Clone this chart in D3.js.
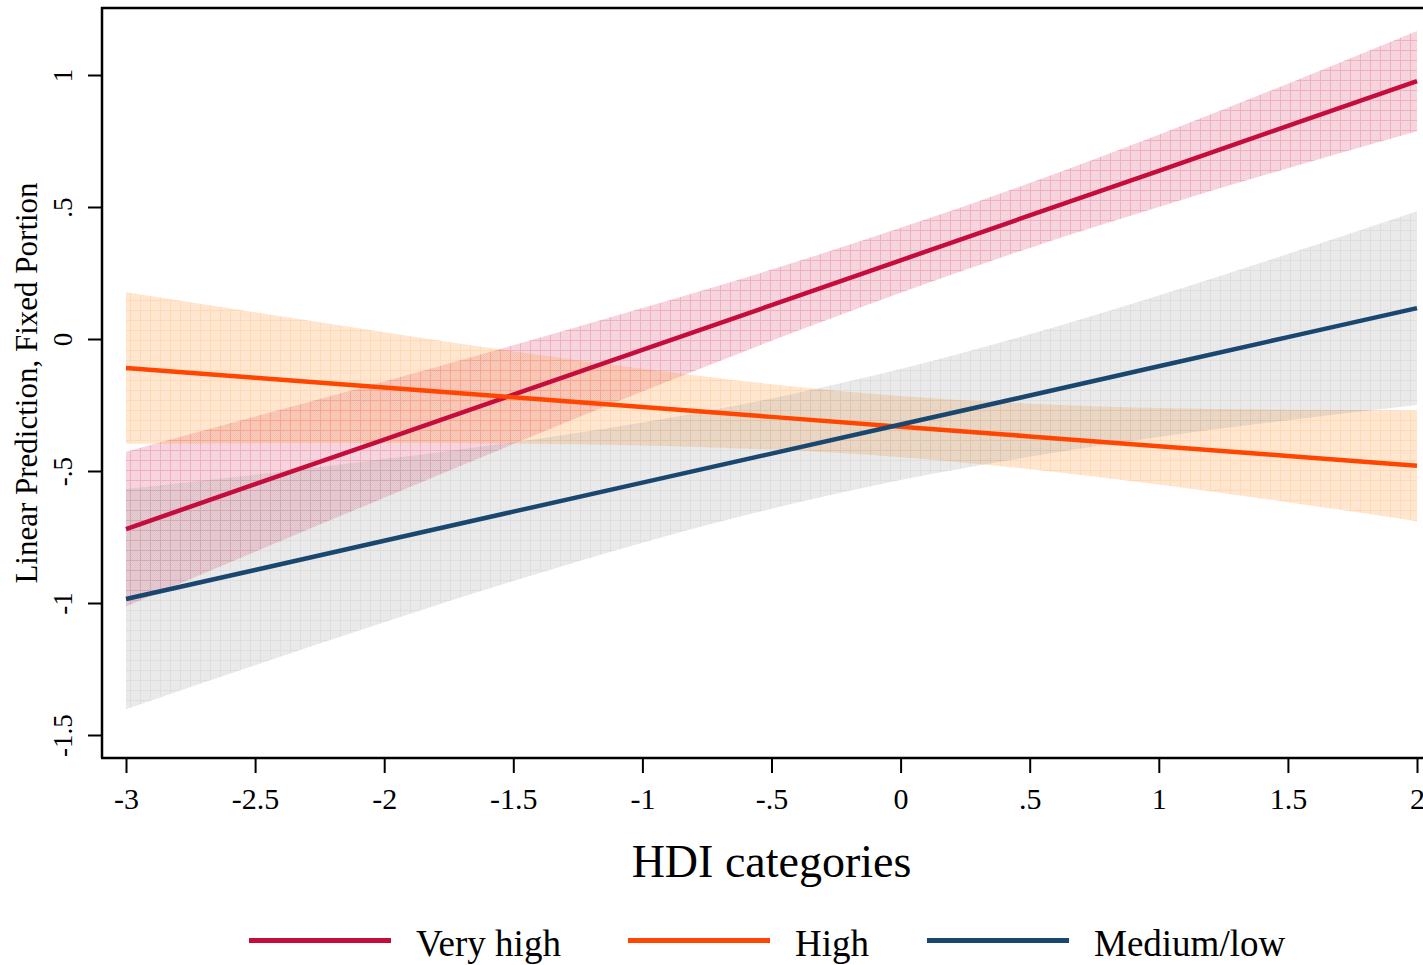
<!DOCTYPE html>
<html>
<head>
<meta charset="utf-8">
<script src="https://cdn.jsdelivr.net/npm/d3@7"></script>
<style>
  body { margin: 0; background: #fff; }
  svg { display: block; }
  text { font-family: "Liberation Serif", "Times New Roman", serif; fill: #000; }
</style>
</head>
<body>
<div id="chart"></div>
<script>
// HDI categories (x) at which the predictions were read
var hdiValues = [-3, -2.5, -2, -1.5, -1, -0.5, 0, 0.5, 1, 1.5, 2];

// Very high
var veryHighFit = [-0.720, -0.550, -0.381, -0.211, -0.041, 0.128, 0.298, 0.468, 0.637, 0.807, 0.977];
var veryHighUpper = [-0.427, -0.294, -0.161, -0.024, 0.117, 0.263, 0.421, 0.591, 0.774, 0.967, 1.167];
var veryHighLower = [-1.013, -0.806, -0.601, -0.398, -0.199, -0.007, 0.175, 0.345, 0.500, 0.647, 0.787];

// High
var highFit = [-0.110, -0.147, -0.184, -0.221, -0.258, -0.295, -0.332, -0.369, -0.406, -0.443, -0.480];
var highUpper = [0.177, 0.101, 0.026, -0.046, -0.113, -0.171, -0.216, -0.245, -0.261, -0.268, -0.270];
var highLower = [-0.397, -0.395, -0.394, -0.396, -0.403, -0.419, -0.448, -0.493, -0.551, -0.618, -0.690];

// Medium/low
var medLowFit = [-0.985, -0.875, -0.764, -0.654, -0.544, -0.434, -0.324, -0.214, -0.103, 0.007, 0.117];
var medLowUpper = [-0.568, -0.514, -0.455, -0.391, -0.316, -0.225, -0.114, 0.018, 0.165, 0.322, 0.484];
var medLowLower = [-1.402, -1.236, -1.073, -0.917, -0.772, -0.643, -0.534, -0.446, -0.371, -0.308, -0.250];

var seriesNames = ["Very high", "High", "Medium/low"];

var xTicks = [-3, -2.5, -2, -1.5, -1, -0.5, 0, 0.5, 1, 1.5, 2];
var xTickLabels = ["-3", "-2.5", "-2", "-1.5", "-1", "-.5", "0", ".5", "1", "1.5", "2"];
var yTicks = [-1.5, -1, -0.5, 0, 0.5, 1];
var yTickLabels = ["-1.5", "-1", "-.5", "0", ".5", "1"];

var svgWidth = 1423;
var svgHeight = 965;

// plot region box (right edge runs past the picture)
var box = { left: 102, top: 8, right: 1441, bottom: 758 };

var svg = d3.select("#chart")
  .append("svg")
  .attr("width", svgWidth)
  .attr("height", svgHeight);

var xScale = d3.scaleLinear().domain([-3, 2]).range([126, 1417]);
var yScale = d3.scaleLinear().domain([-1.5, 1]).range([735, 75]);

var styles = [
  { line: "#c50d3d", band: "#d0204c", base: 0.17, grid: 0.2 },
  { line: "#ff4500", band: "#ff9a3c", base: 0.22, grid: 0.18 },
  { line: "#1a476f", band: "#999999", base: 0.19, grid: 0.15 }
];

var series = [
  { fit: veryHighFit, lo: veryHighLower, hi: veryHighUpper },
  { fit: highFit, lo: highLower, hi: highUpper },
  { fit: medLowFit, lo: medLowLower, hi: medLowUpper }
];

// hatch-like fill patterns for the confidence bands
var defs = svg.append("defs");
styles.forEach(function(s, k) {
  var p = defs.append("pattern")
    .attr("id", "band" + k)
    .attr("patternUnits", "userSpaceOnUse")
    .attr("width", 10)
    .attr("height", 10);
  p.append("rect").attr("width", 10).attr("height", 10)
    .attr("fill", s.band).attr("fill-opacity", s.base);
  for (var i = 0; i < 10; i++) {
    for (var j = 0; j < 10; j++) {
      if ((i + j) % 2 === 0) {
        p.append("rect").attr("x", i).attr("y", j).attr("width", 1).attr("height", 1)
          .attr("fill", s.band).attr("fill-opacity", 0.06);
      }
    }
  }
  p.append("rect").attr("x", 0).attr("y", 0).attr("width", 10).attr("height", 1)
    .attr("fill", s.band).attr("fill-opacity", s.grid);
  p.append("rect").attr("x", 0).attr("y", 1).attr("width", 1).attr("height", 9)
    .attr("fill", s.band).attr("fill-opacity", s.grid);
});

var area = d3.area()
  .x(function(d) { return xScale(d.x); })
  .y0(function(d) { return yScale(d.lo); })
  .y1(function(d) { return yScale(d.hi); })
  .curve(d3.curveMonotoneX);

var line = d3.line()
  .x(function(d) { return xScale(d.x); })
  .y(function(d) { return yScale(d.y); });

var bandsGroup = svg.append("g");
series.forEach(function(s, k) {
  var pts = hdiValues.map(function(x, i) { return { x: x, lo: s.lo[i], hi: s.hi[i] }; });
  bandsGroup.append("path")
    .datum(pts)
    .attr("d", area)
    .attr("fill", "url(#band" + k + ")");
});

var linesGroup = svg.append("g");
series.forEach(function(s, k) {
  var pts = hdiValues.map(function(x, i) { return { x: x, y: s.fit[i] }; });
  linesGroup.append("path")
    .datum(pts)
    .attr("d", line)
    .attr("fill", "none")
    .attr("stroke", styles[k].line)
    .attr("stroke-width", 4.5);
});

// axes
var bottomAxis = d3.axisBottom(xScale)
  .tickValues(xTicks)
  .tickFormat(function(d, i) { return xTickLabels[i]; })
  .tickSize(15)
  .tickSizeOuter(0)
  .tickPadding(15);

var xAxis = svg.append("g")
  .attr("transform", `translate(0, ${box.bottom})`)
  .call(bottomAxis);
xAxis.select(".domain").remove();
xAxis.selectAll("line").attr("stroke", "#000").attr("stroke-width", 2);
xAxis.selectAll("text")
  .attr("font-size", "30px")
  .attr("font-family", "Liberation Serif, Times New Roman, serif")
  .attr("fill", "#000");

var leftAxis = d3.axisLeft(yScale)
  .tickValues(yTicks)
  .tickFormat(function(d, i) { return yTickLabels[i]; })
  .tickSize(14)
  .tickSizeOuter(0);

var yAxis = svg.append("g")
  .attr("transform", `translate(${box.left}, 0)`)
  .call(leftAxis);
yAxis.select(".domain").remove();
yAxis.selectAll("line").attr("stroke", "#000").attr("stroke-width", 2);
yAxis.selectAll("text")
  .attr("font-size", "27px")
  .attr("font-family", "Liberation Serif, Times New Roman, serif")
  .attr("fill", "#000")
  .attr("text-anchor", "middle")
  .attr("dy", null)
  .attr("x", null)
  .attr("transform", "translate(-30, 0) rotate(-90)");

// box lines
svg.append("path")
  .attr("d", `M${box.left},${box.bottom} V${box.top} H${box.right}`)
  .attr("fill", "none")
  .attr("stroke", "#000")
  .attr("stroke-width", 2.5);
svg.append("line")
  .attr("x1", box.left - 1).attr("x2", box.right)
  .attr("y1", box.bottom).attr("y2", box.bottom)
  .attr("stroke", "#000")
  .attr("stroke-width", 2.5);

// axis titles
svg.append("text")
  .attr("x", (box.left + box.right) / 2)
  .attr("y", 877)
  .attr("text-anchor", "middle")
  .attr("font-size", "46px")
  .text("HDI categories");

svg.append("text")
  .attr("transform", `translate(37, ${(box.top + box.bottom) / 2}) rotate(-90)`)
  .attr("text-anchor", "middle")
  .attr("font-size", "31px")
  .text("Linear Prediction, Fixed Portion");

// legend
var legendX = [249, 628, 927];
var legend = svg.append("g");
seriesNames.forEach(function(name, k) {
  legend.append("line")
    .attr("x1", legendX[k]).attr("x2", legendX[k] + 142)
    .attr("y1", 940.5).attr("y2", 940.5)
    .attr("stroke", styles[k].line)
    .attr("stroke-width", 5);
  legend.append("text")
    .attr("x", legendX[k] + 167)
    .attr("y", 956)
    .attr("font-size", "37px")
    .text(name);
});
</script>
</body>
</html>
